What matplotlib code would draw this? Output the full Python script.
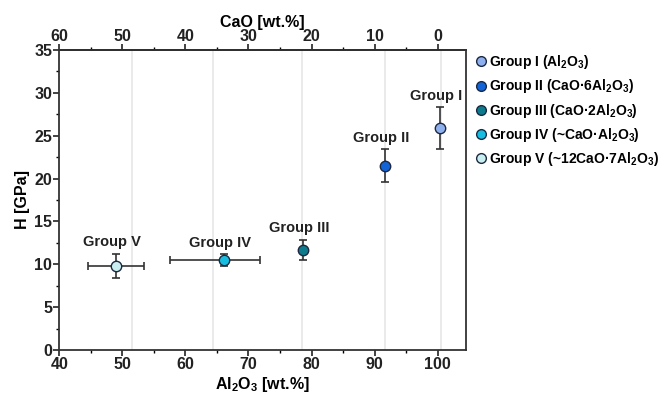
import matplotlib
matplotlib.use("Agg")
import matplotlib.pyplot as plt
from matplotlib.ticker import MultipleLocator
from matplotlib.lines import Line2D

plt.rcParams['font.family'] = ['Liberation Sans', 'DejaVu Sans']
plt.rcParams['font.weight'] = 'bold'
plt.rcParams['mathtext.fontset'] = 'custom'
plt.rcParams['mathtext.rm'] = 'Liberation Sans:bold'
plt.rcParams['mathtext.it'] = 'Liberation Sans:bold'
plt.rcParams['mathtext.bf'] = 'Liberation Sans:bold'

# Data
groups = ["Group I", "Group II", "Group III", "Group IV", "Group V"]
legend_labels = ["Group I (Al$_2$O$_3$)", "Group II (CaO·6Al$_2$O$_3$)",
                 "Group III (CaO·2Al$_2$O$_3$)", "Group IV (~CaO·Al$_2$O$_3$)",
                 "Group V (~12CaO·7Al$_2$O$_3$)"]
al2o3 = [100.3, 91.7, 78.7, 66.1, 49.0]
hardness = [25.9, 21.5, 11.7, 10.5, 9.85]
h_err = [2.4, 1.9, 1.15, 0.65, 1.4]
x_err_low = [0, 0, 0, 8.5, 4.5]
x_err_high = [0, 0, 0, 5.7, 4.4]
colors = ["#8fb0ee", "#1463d6", "#0d7b8b", "#16bde0", "#c9eef0"]
phase_lines = [51.5, 64.4, 78.5, 91.7, 100.5]

fig = plt.figure(figsize=(6.62, 4.03), dpi=100)
ax = fig.add_axes([0.0896, 0.1315, 0.6144, 0.7445])

for xl in phase_lines:
    ax.axvline(xl, color="#e6e6e6", lw=1.2, zorder=0)

for i in range(len(groups)):
    xe = [[x_err_low[i]], [x_err_high[i]]] if x_err_low[i] > 0 else None
    ax.errorbar(al2o3[i], hardness[i], yerr=h_err[i], xerr=xe, fmt='none',
                ecolor="#333333", elinewidth=1.2, capsize=3, capthick=1.2, zorder=2)
    ax.plot(al2o3[i], hardness[i], 'o', ms=7.5, mfc=colors[i], mec="#1c2840",
            mew=1.0, zorder=3)
    ax.text(al2o3[i] - 0.6, hardness[i] + h_err[i] + 0.55, groups[i], ha='center',
            va='bottom', fontsize=10.5, fontweight='bold', color="#222222")

ax.set_xlim(40, 104.5)
ax.set_ylim(0, 35)
ax.xaxis.set_major_locator(MultipleLocator(10))
ax.xaxis.set_minor_locator(MultipleLocator(5))
ax.yaxis.set_major_locator(MultipleLocator(5))
ax.yaxis.set_minor_locator(MultipleLocator(2.5))
ax.tick_params(which='major', length=4, width=1.2, labelsize=11.5, colors="#222222", pad=1)
ax.tick_params(which='minor', length=2.5, width=1.0)
for lbl in ax.get_xticklabels() + ax.get_yticklabels():
    lbl.set_fontweight('bold')
for s in ax.spines.values():
    s.set_linewidth(1.3)
    s.set_color("#333333")

ax.set_xlabel("Al$_2$O$_3$ [wt.%]", fontsize=11.5, fontweight='bold', labelpad=2)
ax.set_ylabel("H [GPa]", fontsize=11.5, fontweight='bold', labelpad=3)

# Top CaO axis
sec = ax.secondary_xaxis('top', functions=(lambda x: 100 - x, lambda c: 100 - c))
sec.xaxis.set_major_locator(MultipleLocator(10))
sec.xaxis.set_minor_locator(MultipleLocator(5))
sec.tick_params(which='major', length=4, width=1.2, labelsize=11.5, colors="#222222", pad=0)
sec.tick_params(which='minor', length=2.5, width=1.0)
for lbl in sec.get_xticklabels():
    lbl.set_fontweight('bold')
sec.set_xlabel("CaO [wt.%]", fontsize=11.5, fontweight='bold', labelpad=2)
sec.spines['top'].set_linewidth(1.3)

handles = [Line2D([0], [0], marker='o', ls='none', ms=7, mfc=c, mec="#1c2840", mew=1.0)
           for c in colors]
fig.legend(handles, legend_labels, loc='upper left', bbox_to_anchor=(0.716, 0.868),
           frameon=False, fontsize=10, handletextpad=0.05, labelspacing=0.45,
           handlelength=1.0, borderaxespad=0, borderpad=0)

fig.savefig("out.png", dpi=100)
